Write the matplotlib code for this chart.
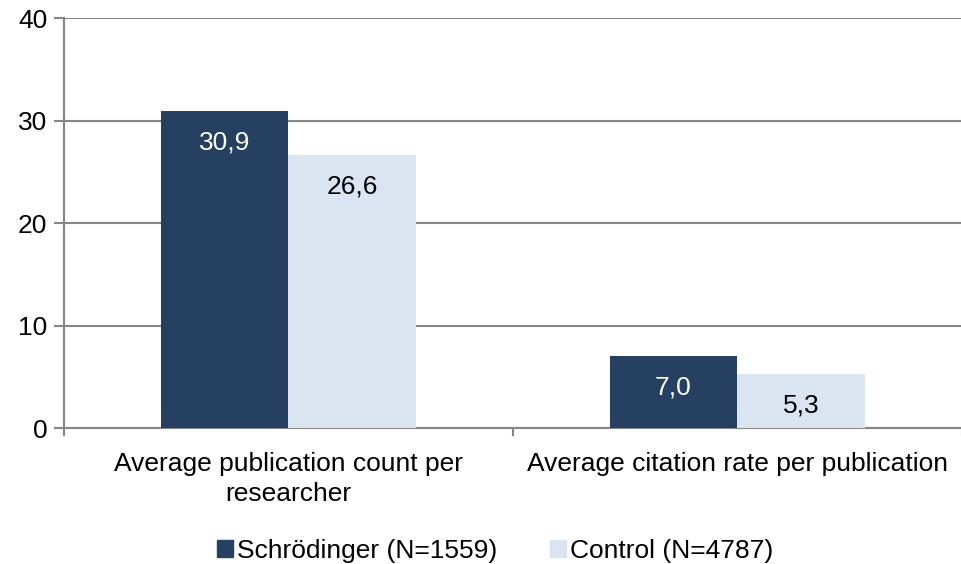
import matplotlib.pyplot as plt
import numpy as np
from matplotlib.patches import Patch

plt.rcParams['font.family'] = ['Liberation Sans', 'DejaVu Sans']

categories = ['Average publication count per\nresearcher',
              'Average citation rate per publication']
schrodinger = [30.9, 7.0]
control = [26.6, 5.3]
series_names = ['Schrödinger (N=1559)', 'Control (N=4787)']
dark = '#264061'
light = '#DBE5F1'
grey = '#868686'
fs = 19

fig = plt.figure(figsize=(9.62, 5.64), dpi=100)
ax = fig.add_axes([0.0665, 0.241, 0.933, 0.727])

x = np.arange(len(categories))
w = 0.284
b1 = ax.bar(x - w / 2, schrodinger, w, color=dark, zorder=3)
b2 = ax.bar(x + w / 2, control, w, color=light, zorder=3)

for bars, vals, c in [(b1, schrodinger, 'white'), (b2, control, 'black')]:
    for r, v in zip(bars, vals):
        ax.annotate(f'{v:.1f}'.replace('.', ','),
                    (r.get_x() + r.get_width() / 2, v),
                    xytext=(0, -14), textcoords='offset points',
                    ha='center', va='top', fontsize=fs, color=c, zorder=4)

ax.set_xlim(-0.5, 1.5)
ax.set_ylim(0, 40)
ax.set_yticks([0, 10, 20, 30, 40])
ax.yaxis.grid(True, color=grey, linewidth=1.5, zorder=0)
ax.set_axisbelow(True)

ax.set_xticks([-0.5, 0.5, 1.5])
ax.set_xticklabels([])
ax.set_xticks(x, minor=True)
ax.set_xticklabels(categories, minor=True, fontsize=fs, linespacing=1.35)
ax.tick_params(axis='x', which='minor', length=0, pad=17)
ax.tick_params(axis='x', which='major', length=6, width=1.5, color=grey,
               direction='out')
ax.tick_params(axis='y', length=7, width=1.5, color=grey, labelsize=fs,
               pad=5)

for s in ['top', 'right']:
    ax.spines[s].set_visible(False)
for s in ['left', 'bottom']:
    ax.spines[s].set_color(grey)
    ax.spines[s].set_linewidth(1.5)

handles = [Patch(color=dark), Patch(color=light)]
fig.legend(handles, series_names, loc='lower center',
           bbox_to_anchor=(0.515, -0.04), ncol=2, frameon=False, fontsize=fs,
           handlelength=0.6, handleheight=0.6, handletextpad=0.15,
           columnspacing=2.0)

fig.savefig('out.png', dpi=100)
